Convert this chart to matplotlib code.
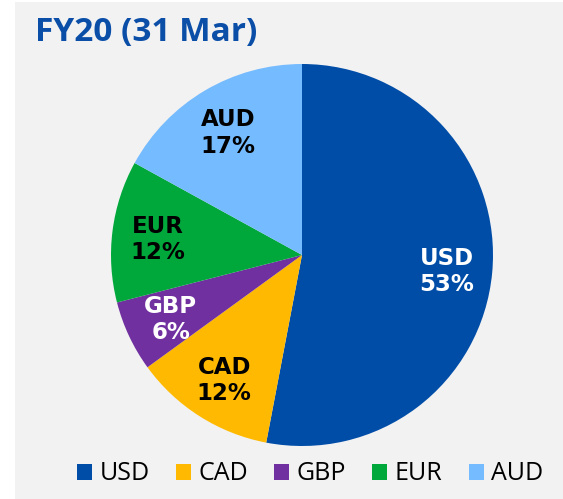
import numpy as np
import matplotlib
matplotlib.use("Agg")
import matplotlib.pyplot as plt
from matplotlib.patches import Rectangle, Patch

# Currency mix, FY20
currencies = ["USD", "CAD", "GBP", "EUR", "AUD"]
shares = [53, 12, 6, 12, 17]
colors = ["#004DA8", "#FFB900", "#7030A0", "#00A83C", "#75BBFF"]
label_colors = ["white", "black", "white", "black", "black"]
title = "FY20 (31 Mar)"

plt.rcParams["font.family"] = ["Open Sans", "DejaVu Sans"]

W, H = 563, 499
fig = plt.figure(figsize=(W / 100, H / 100), dpi=100, facecolor="white")

# light grey panel behind everything
fig.patches.append(Rectangle((15 / W, 0), 1 - 15 / W, (H - 2) / H,
                             transform=fig.transFigure, facecolor="#F2F2F2",
                             edgecolor="none", zorder=-10))

cx, cy, r = 302, 255, 191
ax = fig.add_axes([(cx - r) / W, (H - cy - r) / H, 2 * r / W, 2 * r / H])
ax.set_facecolor("none")
ax.set_zorder(5)

wedges, _ = ax.pie(shares, colors=colors, startangle=90, counterclock=False,
                   wedgeprops=dict(linewidth=0))
ax.set_xlim(-1, 1)
ax.set_ylim(-1, 1)
ax.set_aspect("equal")

for w, cur, s, tc in zip(wedges, currencies, shares, label_colors):
    ang = np.deg2rad((w.theta1 + w.theta2) / 2)
    d = 0.76
    ax.text(d * np.cos(ang), d * np.sin(ang) - 0.015, f"{cur}\n{s}%",
            ha="center", va="center", color=tc, fontsize=16.5,
            fontweight="bold", family="DejaVu Sans", linespacing=1.2)

fig.text(35 / W, (H - 33) / H, title, color="#0A4EA8", fontsize=24,
         fontweight="bold", ha="left", va="center")

handles = [Patch(facecolor=c, edgecolor="none") for c in colors]
fig.legend(handles, currencies, loc="center", ncol=5,
           bbox_to_anchor=(310 / W, 25 / H), frameon=False, fontsize=18,
           handlelength=0.6, handleheight=0.6, handletextpad=0.3,
           columnspacing=1.05, borderaxespad=0, borderpad=0)

fig.savefig("out.png", dpi=100, facecolor="white")
